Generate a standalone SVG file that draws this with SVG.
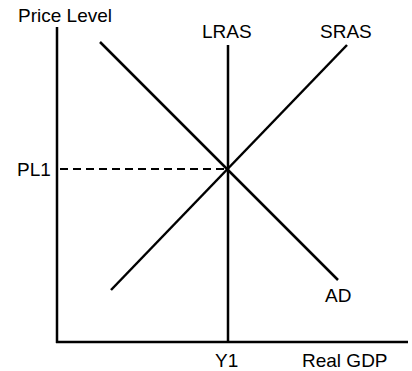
<svg xmlns="http://www.w3.org/2000/svg" width="412" height="371" viewBox="0 0 412 371">
<style>
.ax{stroke:#000;stroke-width:2.5;fill:none}
.cv{stroke:#000;stroke-width:2.5;fill:none;stroke-linecap:butt}
.dash{stroke:#000;stroke-width:2;stroke-dasharray:8 5;fill:none}
text{font-family:"Liberation Sans",Arial,sans-serif;font-size:19px;fill:#000}
</style>
<rect width="412" height="371" fill="#fff"/>
<g id="axes">
<line class="ax" x1="57" y1="27" x2="57" y2="343"/>
<line class="ax" x1="56" y1="342" x2="408" y2="342"/>
<text x="18" y="22">Price Level</text>
<text x="302" y="367">Real GDP</text>
</g>
<g id="connectors">
<line class="dash" x1="60" y1="169" x2="227" y2="169"/>
</g>
<g id="LRAS">
<line class="cv" x1="228" y1="45" x2="228" y2="342"/>
<text x="202" y="38">LRAS</text>
</g>
<g id="SRAS">
<line class="cv" x1="111" y1="290" x2="347" y2="45"/>
<text x="320" y="38">SRAS</text>
</g>
<g id="AD">
<line class="cv" x1="100" y1="42" x2="338" y2="280"/>
<text x="325" y="302">AD</text>
</g>
<g id="PL1"><text x="17" y="176">PL1</text></g>
<g id="Y1"><text x="215" y="367">Y1</text></g>
</svg>
